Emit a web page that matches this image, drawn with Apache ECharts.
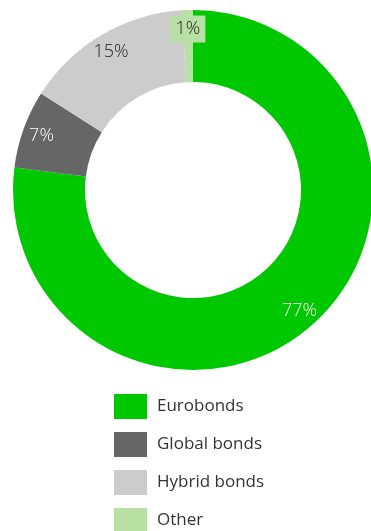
<!DOCTYPE html>
<html>
<head>
<meta charset="utf-8">
<script src="https://cdn.jsdelivr.net/npm/echarts@6/dist/echarts.min.js"></script>
<style>
  html, body { margin: 0; padding: 0; background: #fff; }
  #chart { width: 371px; height: 531px; }
</style>
</head>
<body>
<div id="chart"></div>
<script>
var categories = ["Eurobonds", "Global bonds", "Hybrid bonds", "Other"];
var shares = [77, 7, 15, 1];
var colors = ["#00c800", "#666666", "#cccccc", "#b8e0a4"];
var labelColors = ["#ffffff", "#ffffff", "#222222", "#222222"];

var chart = echarts.init(document.getElementById("chart"));

var ringData = categories.map(function (name, i) {
  return { name: name, value: shares[i], itemStyle: { color: colors[i] } };
});

// transparent copy of the ring, only used to place the labels a bit outward
var labelData = categories.map(function (name, i) {
  var item = {
    name: name,
    value: shares[i],
    itemStyle: { color: "rgba(0,0,0,0)" },
    label: { color: labelColors[i] }
  };
  if (name === "Other") {
    item.label.backgroundColor = colors[i];
    item.label.padding = [5, 5, 4, 5];
  }
  return item;
});

var option = {
  animation: false,
  legend: {
    orient: "vertical",
    left: 114,
    top: 394,
    height: 200,
    padding: 0,
    icon: "rect",
    itemWidth: 33,
    itemHeight: 25,
    itemGap: 13,
    selectedMode: false,
    data: categories,
    textStyle: {
      fontFamily: "Open Sans",
      fontSize: 17,
      color: "#333333",
      padding: [0, 0, 0, 5]
    }
  },
  series: [
    {
      type: "pie",
      center: [193, 190],
      radius: [108, 180],
      startAngle: 90,
      clockwise: true,
      silent: true,
      label: { show: false },
      labelLine: { show: false },
      emphasis: { disabled: true },
      data: ringData
    },
    {
      type: "pie",
      center: [193, 190],
      radius: [136, 180],
      startAngle: 90,
      clockwise: true,
      silent: true,
      emphasis: { disabled: true },
      labelLine: { show: false },
      label: {
        show: true,
        position: "inside",
        formatter: "{c}%",
        fontFamily: "Open Sans",
        fontWeight: 300,
        fontSize: 18
      },
      data: labelData
    }
  ]
};

chart.setOption(option);
</script>
</body>
</html>
